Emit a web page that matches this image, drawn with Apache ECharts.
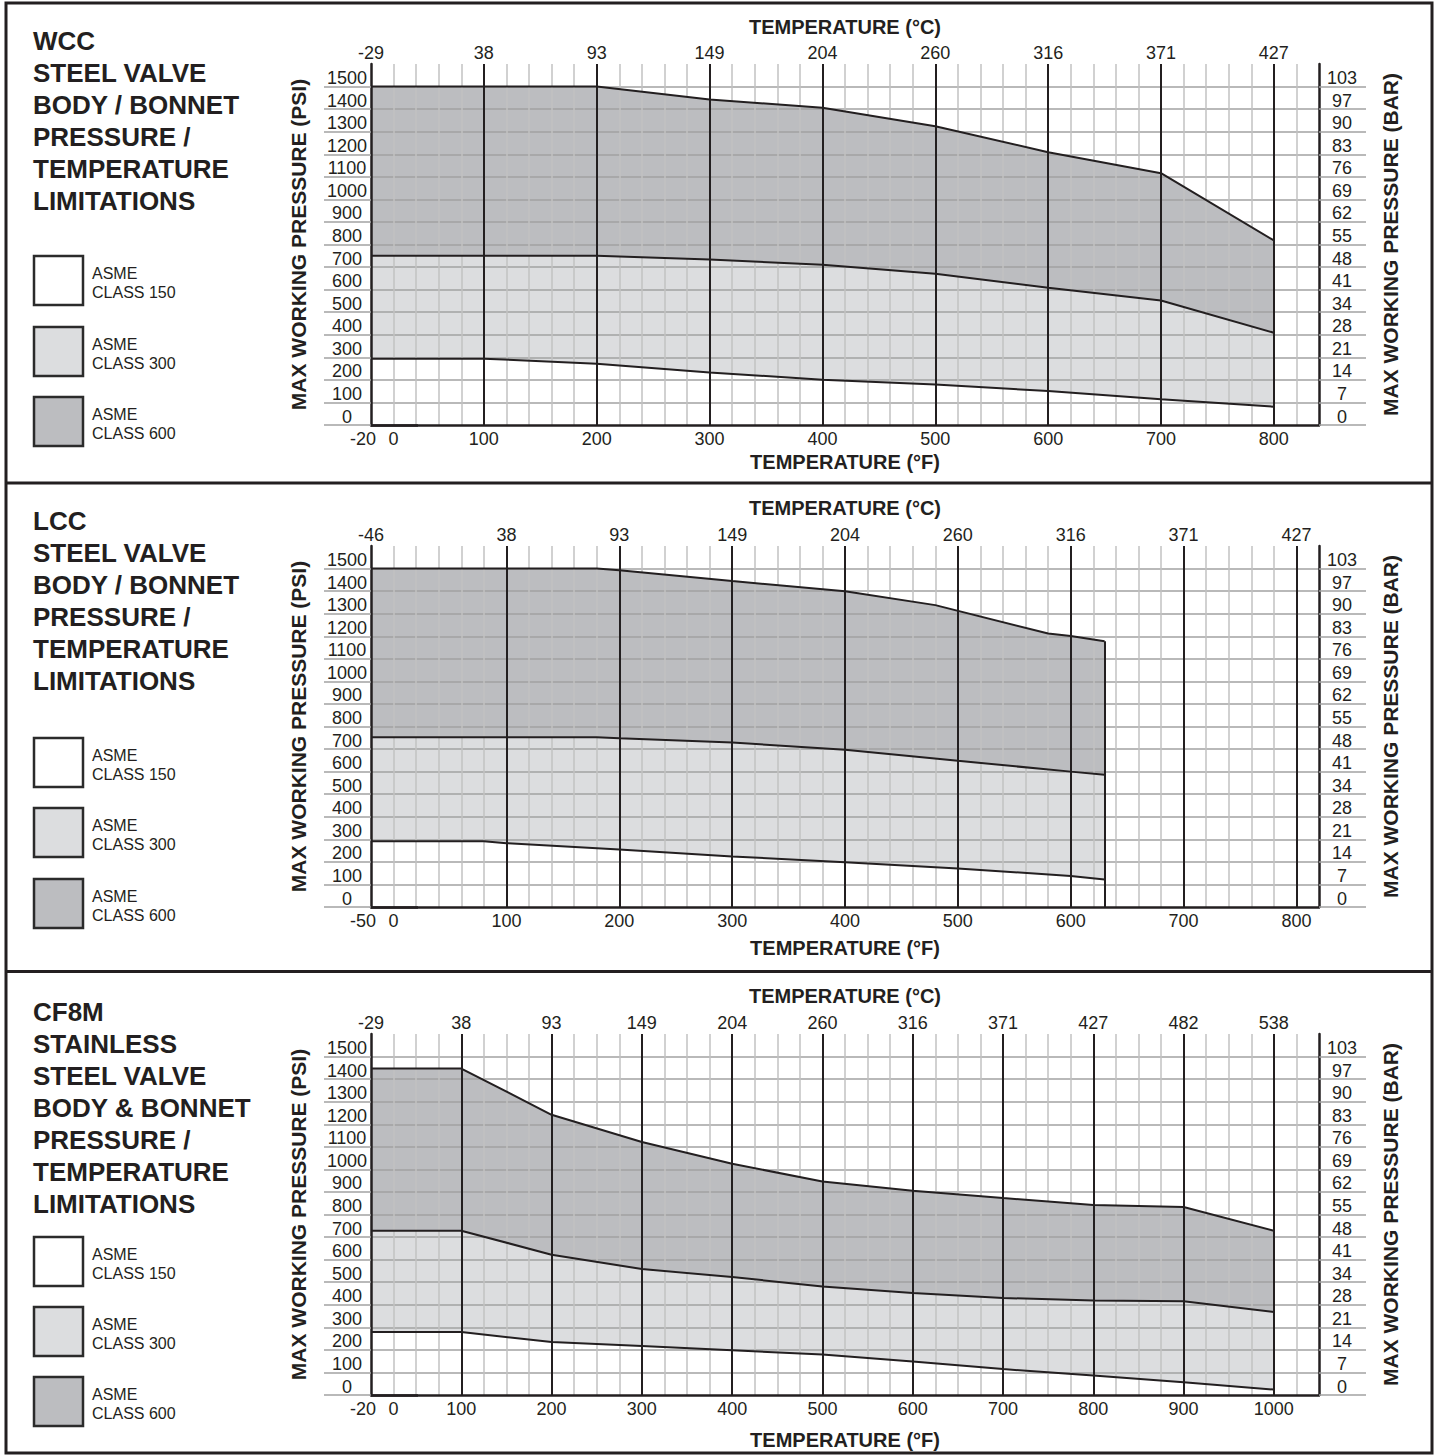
<!DOCTYPE html>
<html>
<head>
<meta charset="utf-8">
<script src="https://cdn.jsdelivr.net/npm/echarts@6/dist/echarts.min.js"></script>
<style>
html,body{margin:0;padding:0;background:#ffffff;}
#chart{width:1438px;height:1456px;}
</style>
</head>
<body>
<div id="chart"></div>
<script>
// ================= DATA =================
// Pressure ticks (PSI) and the matching BAR labels
const psiTicks = [0,100,200,300,400,500,600,700,800,900,1000,1100,1200,1300,1400,1500];
const barTicks = [0,7,14,21,28,34,41,48,55,62,69,76,83,90,97,103];

// ---- WCC ----
const wccTempF    = [-20, 100, 200, 300, 400, 500, 600, 700, 800];
const wccClass150 = [294, 294, 272, 233, 201, 179, 151, 114, 81];
const wccClass300 = [750, 750, 750, 734, 710, 670, 608, 552, 409];
const wccClass600 = [1500, 1500, 1500, 1443, 1406, 1324, 1209, 1116, 818];
const wccTicksF   = [-20, 0, 100, 200, 300, 400, 500, 600, 700, 800];
const wccTicksCatF = [-20, 100, 200, 300, 400, 500, 600, 700, 800];
const wccTicksC   = ['-29','38','93','149','204','260','316','371','427'];
const wccMajorsF  = [100, 200, 300, 400, 500, 600, 700, 800];
// temperature scale of the printed chart (compressed first segment)
const wccScaleF    = [-20, 0, 100, 840];
const wccScaleCell = [0, 1, 5, 42];

// ---- LCC ----
const lccTemp150  = [-50, 80, 100, 200, 300, 400, 500, 600, 630];
const lccClass150 = [291, 291, 283, 255, 224, 198, 171, 137, 122];
const lccTemp300  = [-50, 180, 200, 300, 400, 500, 600, 630];
const lccClass300 = [752, 752, 748, 729, 697, 648, 600, 586];
const lccTemp600  = [-50, 180, 200, 300, 400, 480, 580, 600, 630];
const lccClass600 = [1500, 1500, 1493, 1445, 1399, 1338, 1212, 1201, 1178];
const lccTicksF   = [-50, 0, 100, 200, 300, 400, 500, 600, 700, 800];
const lccTicksCatF = [-50, 100, 200, 300, 400, 500, 600, 700, 800];
const lccTicksC   = ['-46','38','93','149','204','260','316','371','427'];
const lccMajorsF  = [100, 200, 300, 400, 500, 600, 700, 800];
const lccScaleF    = [-50, 0, 820];
const lccScaleCell = [0, 1, 42];

// ---- CF8M ----
const cf8mTempF    = [-20, 100, 200, 300, 400, 500, 600, 700, 800, 900, 1000];
const cf8mClass150 = [279, 279, 235, 217, 198, 180, 149, 115, 86, 56, 24];
const cf8mClass300 = [728, 728, 622, 558, 523, 481, 452, 430, 419, 415, 368];
const cf8mClass600 = [1447, 1447, 1242, 1121, 1025, 946, 905, 873, 842, 833, 728];
const cf8mTicksF   = [-20, 0, 100, 200, 300, 400, 500, 600, 700, 800, 900, 1000];
const cf8mTicksCatF = [-20, 100, 200, 300, 400, 500, 600, 700, 800, 900, 1000];
const cf8mTicksC   = ['-29','38','93','149','204','260','316','371','427','482','538'];
const cf8mMajorsF  = [100, 200, 300, 400, 500, 600, 700, 800, 900, 1000];
const cf8mScaleF    = [-20, 0, 100, 1050];
const cf8mScaleCell = [0, 1, 4, 42];

// ---- texts ----
const wccTitle  = ['WCC','STEEL VALVE','BODY / BONNET','PRESSURE /','TEMPERATURE','LIMITATIONS'];
const lccTitle  = ['LCC','STEEL VALVE','BODY / BONNET','PRESSURE /','TEMPERATURE','LIMITATIONS'];
const cf8mTitle = ['CF8M','STAINLESS','STEEL VALVE','BODY & BONNET','PRESSURE /','TEMPERATURE','LIMITATIONS'];
const legendNames = ['ASME\nCLASS 150','ASME\nCLASS 300','ASME\nCLASS 600'];

// ================= STYLE / LAYOUT =================
const FONT = '"Liberation Sans", Arial, Helvetica, sans-serif';
const INK = '#231f20';
const FILL600 = '#bcbdc0';
const FILL300 = '#dcdddf';
const FILL150 = '#ffffff';
const GRID_H = '#a2a2a2';
const GRID_V = '#c2c2c2';
const GRID_LEFT = 371, GRID_WIDTH = 948, GRID_HEIGHT = 361, CELLS = 42;

const panels = [
  { title: wccTitle, scaleF: wccScaleF, scaleCell: wccScaleCell,
    ticksF: wccTicksF, ticksCatF: wccTicksCatF, ticksC: wccTicksC, majorsF: wccMajorsF,
    c150: [wccTempF, wccClass150], c300: [wccTempF, wccClass300], c600: [wccTempF, wccClass600] },
  { title: lccTitle, scaleF: lccScaleF, scaleCell: lccScaleCell,
    ticksF: lccTicksF, ticksCatF: lccTicksCatF, ticksC: lccTicksC, majorsF: lccMajorsF,
    c150: [lccTemp150, lccClass150], c300: [lccTemp300, lccClass300], c600: [lccTemp600, lccClass600] },
  { title: cf8mTitle, scaleF: cf8mScaleF, scaleCell: cf8mScaleCell,
    ticksF: cf8mTicksF, ticksCatF: cf8mTicksCatF, ticksC: cf8mTicksC, majorsF: cf8mMajorsF,
    c150: [cf8mTempF, cf8mClass150], c300: [cf8mTempF, cf8mClass300], c600: [cf8mTempF, cf8mClass600] }
];
const layout = [
  { gridTop: 64,   titleTop: 25,    legendTops: [256, 327, 397],   cTitleY: 26.5, fTitleY: 461.5 },
  { gridTop: 546,  titleTop: 505,   legendTops: [738, 808, 879],   cTitleY: 507.5, fTitleY: 948 },
  { gridTop: 1034, titleTop: 995.5, legendTops: [1237, 1307, 1377], cTitleY: 996,  fTitleY: 1439.5 }
];

// piecewise-linear temperature scale, as printed on the chart
function makeScale(knotsF, knotsCell) {
  return function (f) {
    const n = knotsF.length;
    for (let i = 0; i < n - 1; i++) {
      if (f <= knotsF[i + 1] || i === n - 2) {
        const t = (f - knotsF[i]) / (knotsF[i + 1] - knotsF[i]);
        return knotsCell[i] + t * (knotsCell[i + 1] - knotsCell[i]);
      }
    }
  };
}
function labelLookup(values, labels, richFirst) {
  return function (v) {
    for (let i = 0; i < values.length; i++) {
      if (Math.abs(values[i] - v) < 1e-6) {
        const s = String(labels[i]);
        return (richFirst && i === 0) ? '{e|' + s + '}' : s;
      }
    }
    return '';
  };
}

const option = {
  animation: false,
  backgroundColor: '#ffffff',
  textStyle: { fontFamily: FONT, color: INK },
  grid: [], xAxis: [], yAxis: [], series: [], graphic: []
};

panels.forEach(function (p, i) {
  const L = layout[i];
  const fx = makeScale(p.scaleF, p.scaleCell);
  option.grid.push({ left: GRID_LEFT, width: GRID_WIDTH, top: L.gridTop, height: GRID_HEIGHT });

  const xBottom = option.xAxis.length;
  const bottomVals = p.ticksF.map(fx);
  option.xAxis.push({
    gridIndex: i, type: 'value', position: 'bottom', min: 0, max: CELLS, interval: 1, z: 3,
    axisLine: { show: true, onZero: false, lineStyle: { color: INK, width: 2.5 } },
    axisTick: { show: false },
    splitLine: { show: true, showMinLine: false, showMaxLine: false, lineStyle: { color: GRID_V, width: 1.5 } },
    axisLabel: {
      customValues: bottomVals, formatter: labelLookup(bottomVals, p.ticksF, true),
      margin: 14, verticalAlign: 'middle', fontSize: 18, color: INK, fontFamily: FONT,
      rich: { e: { padding: [0, 16, 0, 0], fontSize: 18, color: INK, fontFamily: FONT } }
    }
  });
  const topVals = p.ticksCatF.map(fx);
  option.xAxis.push({
    gridIndex: i, type: 'value', position: 'top', min: 0, max: CELLS, interval: 1, z: 3,
    axisLine: { show: false }, axisTick: { show: false }, splitLine: { show: false },
    axisLabel: {
      customValues: topVals, formatter: labelLookup(topVals, p.ticksC, false),
      margin: 11, verticalAlign: 'middle', fontSize: 18, color: INK, fontFamily: FONT
    }
  });

  const yLeft = option.yAxis.length;
  option.yAxis.push({
    gridIndex: i, type: 'value', position: 'left', min: 0, max: 1600, interval: 100, z: 3,
    name: 'MAX WORKING PRESSURE (PSI)', nameLocation: 'middle', nameGap: 62, nameRotate: 90,
    nameTextStyle: { fontSize: 21, fontWeight: 'bold', color: INK, fontFamily: FONT },
    axisLine: { show: true, onZero: false, lineStyle: { color: INK, width: 2.5 } },
    axisTick: { show: true, customValues: psiTicks, length: 47, lineStyle: { color: GRID_H, width: 1.5 } },
    splitLine: { show: true, showMinLine: false, showMaxLine: true, lineStyle: { color: GRID_H, width: 1.5 } },
    axisLabel: { customValues: psiTicks, formatter: labelLookup(psiTicks, psiTicks, false),
      margin: 24, align: 'center', verticalAlign: 'bottom',
      fontSize: 18, lineHeight: 17, color: INK, fontFamily: FONT }
  });
  option.yAxis.push({
    gridIndex: i, type: 'value', position: 'right', min: 0, max: 1600, interval: 100, z: 3,
    name: 'MAX WORKING PRESSURE (BAR)', nameLocation: 'middle', nameGap: 61, nameRotate: 90,
    nameTextStyle: { fontSize: 21, fontWeight: 'bold', color: INK, fontFamily: FONT },
    axisLine: { show: true, onZero: false, lineStyle: { color: INK, width: 2.5 } },
    axisTick: { show: true, customValues: psiTicks, length: 47, lineStyle: { color: GRID_H, width: 1.5 } },
    splitLine: { show: false },
    axisLabel: { customValues: psiTicks, formatter: labelLookup(psiTicks, barTicks, false),
      margin: 23, align: 'center', verticalAlign: 'bottom', fontSize: 18, lineHeight: 17, color: INK, fontFamily: FONT }
  });
  // extension of the bottom axis line under the BAR labels
  option.yAxis.push({
    gridIndex: i, type: 'value', position: 'right', min: 0, max: 1600, interval: 100, z: 4,
    axisLine: { show: false }, splitLine: { show: false }, axisLabel: { show: false },
    axisTick: { show: true, customValues: [0], length: 47, lineStyle: { color: INK, width: 2.5 } }
  });

  function pairs(c) { return c[0].map(function (f, k) { return [fx(f), c[1][k]]; }); }
  function fill(c, color, z) {
    return { type: 'line', xAxisIndex: xBottom, yAxisIndex: yLeft, data: pairs(c), symbol: 'none',
      silent: true, z: z, lineStyle: { width: 0, opacity: 0 },
      areaStyle: { color: color, opacity: 1, origin: 'start' } };
  }
  function stroke(c, extra) {
    const s = { type: 'line', xAxisIndex: xBottom, yAxisIndex: yLeft, data: pairs(c), symbol: 'none',
      silent: true, z: 4, lineStyle: { color: INK, width: 2 } };
    return Object.assign(s, extra || {});
  }
  option.series.push(fill(p.c600, FILL600, 0));
  option.series.push(fill(p.c300, FILL300, 1));
  option.series.push(fill(p.c150, FILL150, 2));
  option.series.push(stroke(p.c300));
  option.series.push(stroke(p.c150));
  const lastF = p.c600[0][p.c600[0].length - 1];
  const lastV = p.c600[1][p.c600[1].length - 1];
  option.series.push(stroke(p.c600, {
    markLine: {
      silent: true, symbol: ['none', 'none'], label: { show: false },
      lineStyle: { color: INK, width: 2, type: 'solid' },
      emphasis: { disabled: true },
      data: p.majorsF.map(function (f) { return { xAxis: fx(f) }; }).concat([
        [{ coord: [fx(lastF), 0] }, { coord: [fx(lastF), lastV] }]
      ])
    }
  }));

  // ---- left titles ----
  option.graphic.push({ type: 'text', x: 33, y: L.titleTop, silent: true,
    style: { text: p.title.join('\n'), fontSize: 26, fontWeight: 'bold', fontFamily: FONT, fill: INK,
      lineHeight: 32, align: 'left', verticalAlign: 'top', textAlign: 'left', textVerticalAlign: 'top' } });
  // ---- legend boxes ----
  const fills = [FILL150, FILL300, FILL600];
  L.legendTops.forEach(function (t, k) {
    option.graphic.push({ type: 'rect', silent: true, shape: { x: 34, y: t, width: 49, height: 49 },
      style: { fill: fills[k], stroke: '#2b2b2b', lineWidth: 2.5 } });
    option.graphic.push({ type: 'text', x: 92, y: t + 8, silent: true,
      style: { text: legendNames[k], fontSize: 16, fontFamily: FONT, fill: INK, lineHeight: 19,
        align: 'left', verticalAlign: 'top', textAlign: 'left', textVerticalAlign: 'top' } });
  });
  // ---- temperature titles ----
  [['TEMPERATURE (°C)', L.cTitleY], ['TEMPERATURE (°F)', L.fTitleY]].forEach(function (tt) {
    option.graphic.push({ type: 'text', x: GRID_LEFT + GRID_WIDTH / 2, y: tt[1], silent: true,
      style: { text: tt[0], fontSize: 20, fontWeight: 'bold', fontFamily: FONT, fill: INK,
        align: 'center', verticalAlign: 'middle', textAlign: 'center', textVerticalAlign: 'middle' } });
  });
});

// ---- frame ----
option.graphic.push({ type: 'rect', silent: true, z: 100, shape: { x: 6, y: 3, width: 1426, height: 1450 },
  style: { fill: 'none', stroke: INK, lineWidth: 3 } });
[483, 971.5].forEach(function (y) {
  option.graphic.push({ type: 'line', silent: true, z: 100, shape: { x1: 6, y1: y, x2: 1432, y2: y },
    style: { stroke: INK, lineWidth: 3 } });
});

const chart = echarts.init(document.getElementById('chart'), null, { renderer: 'svg', width: 1438, height: 1456 });
chart.setOption(option);
</script>
</body>
</html>
